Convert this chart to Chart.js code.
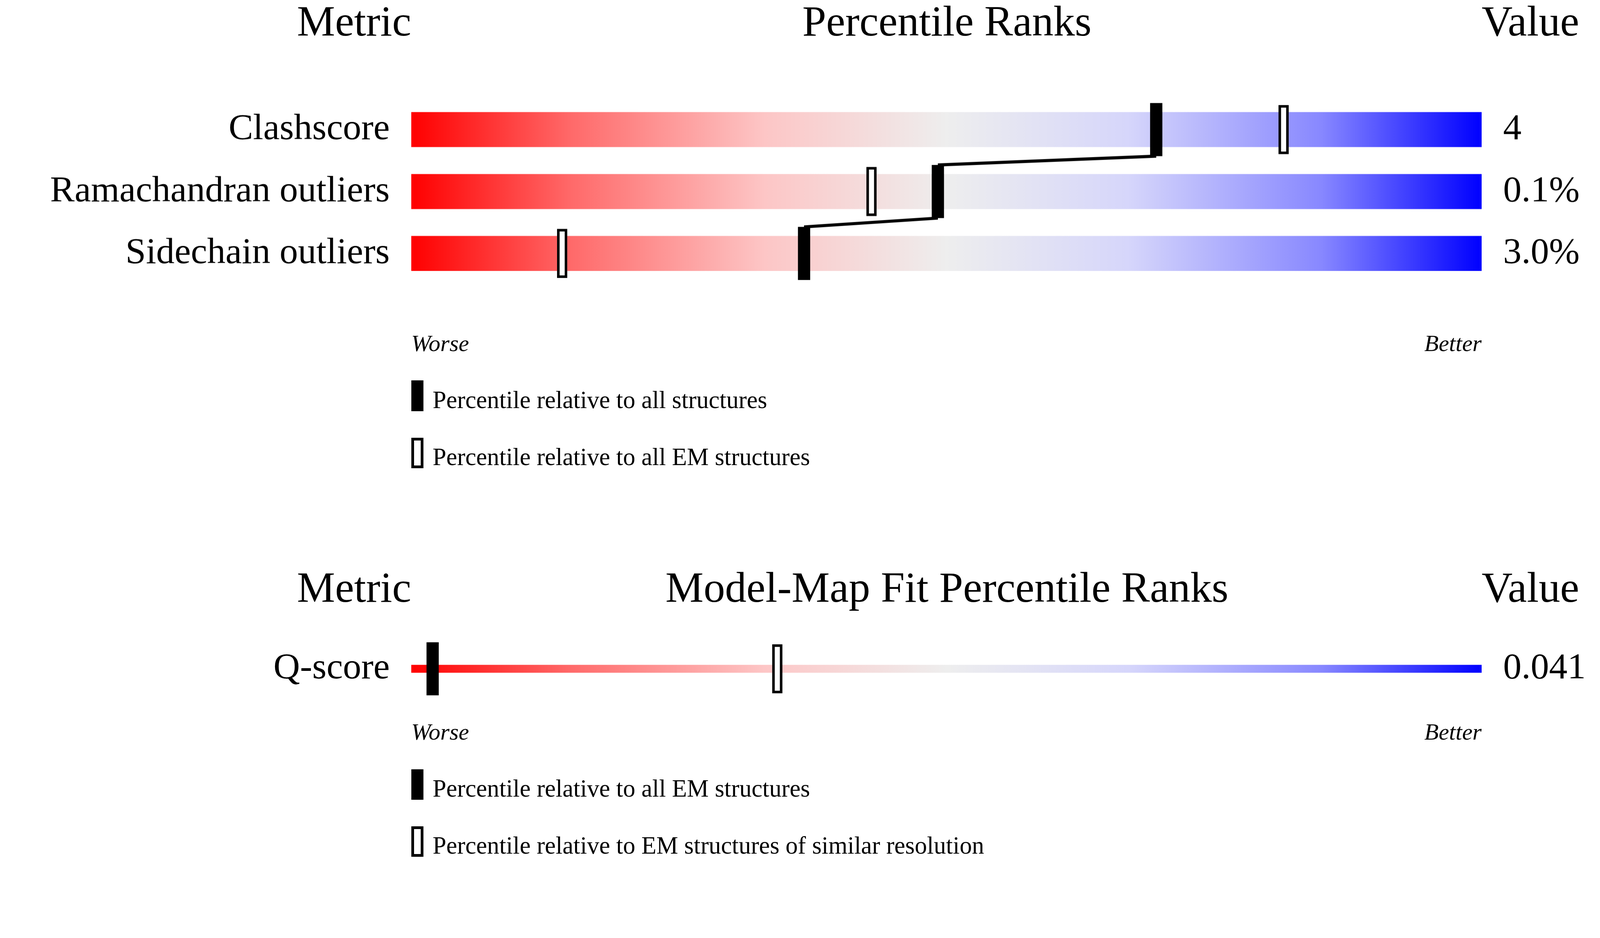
<!DOCTYPE html>
<html>
<head>
<meta charset="utf-8">
<script src="https://cdn.jsdelivr.net/npm/chart.js@4"></script>
<style>
  html, body { margin: 0; padding: 0; background: #fff; overflow: hidden; }
  body { width: 100vw; height: 100vh; position: relative; font-family: "Liberation Serif", "DejaVu Serif", serif; color: #000; }
  .t { position: absolute; white-space: nowrap; line-height: 1; }
  .box { position: absolute; box-sizing: border-box; }
  .cv { position: absolute; left: 0; }
</style>
</head>
<body>
<div id="page"></div>
<script>
// design units are 1568 wide; everything is multiplied by S
const S = (window.innerWidth || 4485) / 1568;

// ---- data ----
const topMetrics = ['Clashscore', 'Ramachandran outliers', 'Sidechain outliers'];
const topValues = ['4', '0.1%', '3.0%'];
const topAll = [69.6, 49.2, 36.7];     // percentile vs all structures
const topEM = [81.5, 43.0, 14.1];      // percentile vs all EM structures

const qMetrics = ['Q-score'];
const qValues = ['0.041'];
const qAll = [2.0];                    // vs all EM structures
const qSimilar = [34.2];               // vs EM structures of similar resolution

const page = document.getElementById('page');

function text(str, opts) {
    const d = document.createElement('div');
    d.className = 't';
    d.textContent = str;
    d.style.fontSize = (opts.size * S) + 'px';
    d.style.top = (opts.top * S) + 'px';
    if (opts.italic) d.style.fontStyle = 'italic';
    if (opts.left !== undefined) d.style.left = (opts.left * S) + 'px';
    if (opts.right !== undefined) d.style.right = (opts.right * S) + 'px';
    if (opts.center) d.style.transform = 'translateX(-50%)';
    page.appendChild(d);
}

function box(top, filled) {
    const d = document.createElement('div');
    d.className = 'box';
    d.style.left = (403 * S) + 'px';
    d.style.top = (top * S) + 'px';
    d.style.width = (12 * S) + 'px';
    d.style.height = (30 * S) + 'px';
    if (filled) d.style.background = '#000';
    else d.style.border = (3 * S) + 'px solid #000';
    page.appendChild(d);
}

function canvasBox(id, top, height) {
    const d = document.createElement('div');
    d.className = 'cv';
    d.style.top = (top * S) + 'px';
    d.style.width = (1568 * S) + 'px';
    d.style.height = (height * S) + 'px';
    const c = document.createElement('canvas');
    c.id = id;
    d.appendChild(c);
    page.appendChild(d);
}

function panel(top, title, chartId, rows, legend1, legend2) {
    text('Metric', { size: 42, top: top, right: 1165 });
    text(title, { size: 42, top: top, left: 928, center: true });
    text('Value', { size: 42, top: top, left: 1452 });
    canvasBox(chartId, top + 57, rows * 87);
    const wy = top + 57 + rows * 87 + 7;
    text('Worse', { size: 23, top: wy, left: 403, italic: true });
    text('Better', { size: 23, top: wy, right: 116, italic: true });
    box(wy + 48, true);
    text(legend1, { size: 24, top: wy + 55, left: 424 });
    box(wy + 104, false);
    text(legend2, { size: 24, top: wy + 111, left: 424 });
}

panel(0, 'Percentile Ranks', 'top', 3,
    'Percentile relative to all structures', 'Percentile relative to all EM structures');
panel(555, 'Model-Map Fit Percentile Ranks', 'bottom', 1,
    'Percentile relative to all EM structures', 'Percentile relative to EM structures of similar resolution');

function gradient(ctx, area) {
    const g = ctx.createLinearGradient(area.left, 0, area.right, 0);
    g.addColorStop(0, '#ff0000');
    g.addColorStop(0.15, '#ff6a6a');
    g.addColorStop(0.33, '#fdc6c6');
    g.addColorStop(0.5, '#eeeeee');
    g.addColorStop(0.67, '#d6d6fb');
    g.addColorStop(0.85, '#8888ff');
    g.addColorStop(1, '#0000ff');
    return g;
}

// markers drawn from the chart's scales
const markerPlugin = {
    id: 'markers',
    afterDatasetsDraw(chart, args, opts) {
        const ctx = chart.ctx;
        const xs = chart.scales.x, ys = chart.scales.y;
        const half = 26 * S, w = 12 * S;
        ctx.save();
        if (opts.connect && opts.filled.length > 1) {
            ctx.strokeStyle = '#000';
            ctx.lineWidth = 3 * S;
            ctx.beginPath();
            for (let i = 0; i < opts.filled.length - 1; i++) {
                ctx.moveTo(xs.getPixelForValue(opts.filled[i]), ys.getPixelForValue(i) + half);
                ctx.lineTo(xs.getPixelForValue(opts.filled[i + 1]), ys.getPixelForValue(i + 1) - half);
            }
            ctx.stroke();
        }
        opts.open.forEach((v, i) => {
            const x = xs.getPixelForValue(v), y = ys.getPixelForValue(i);
            const lw = 2.5 * S;
            ctx.fillStyle = '#fff';
            ctx.fillRect(x - w / 2 + S, y - half + 2 * S, w - 2 * S, 2 * half - 4 * S);
            ctx.strokeStyle = '#000';
            ctx.lineWidth = lw;
            ctx.strokeRect(x - w / 2 + S + lw / 2, y - half + 2 * S + lw / 2, w - 2 * S - lw, 2 * half - 4 * S - lw);
        });
        opts.filled.forEach((v, i) => {
            const x = xs.getPixelForValue(v), y = ys.getPixelForValue(i);
            ctx.fillStyle = '#000';
            ctx.fillRect(x - w / 2, y - half, w, 2 * half);
        });
        ctx.restore();
    }
};

function makeChart(id, metrics, values, filled, open, connect) {
    const tickFont = { family: 'Liberation Serif', size: 36 * S };
    return new Chart(document.getElementById(id), {
        type: 'bar',
        data: {
            labels: metrics,
            datasets: [{
                data: metrics.map(() => [0, 100]),
                backgroundColor: (c) => c.chart.chartArea ? gradient(c.chart.ctx, c.chart.chartArea) : '#eee',
                barThickness: 34 * S,
                borderWidth: 0
            }]
        },
        plugins: [markerPlugin],
        options: {
            indexAxis: 'y',
            responsive: true,
            maintainAspectRatio: false,
            animation: false,
            layout: { padding: 0 },
            plugins: {
                legend: { display: false },
                tooltip: { enabled: false },
                markers: { filled: filled, open: open, connect: connect }
            },
            scales: {
                x: { min: 0, max: 100, display: false },
                y: {
                    position: 'left',
                    grid: { display: false },
                    border: { display: false },
                    ticks: { color: '#000', padding: 18 * S, font: tickFont },
                    afterFit: (s) => { s.width = 403 * S; }
                },
                y2: {
                    type: 'category',
                    labels: values,
                    position: 'right',
                    grid: { display: false },
                    border: { display: false },
                    ticks: { color: '#000', padding: 18 * S, font: tickFont },
                    afterFit: (s) => { s.width = 116 * S; }
                }
            }
        }
    });
}

makeChart('top', topMetrics, topValues, topAll, topEM, true);
makeChart('bottom', qMetrics, qValues, qAll, qSimilar, false);
</script>
</body>
</html>
